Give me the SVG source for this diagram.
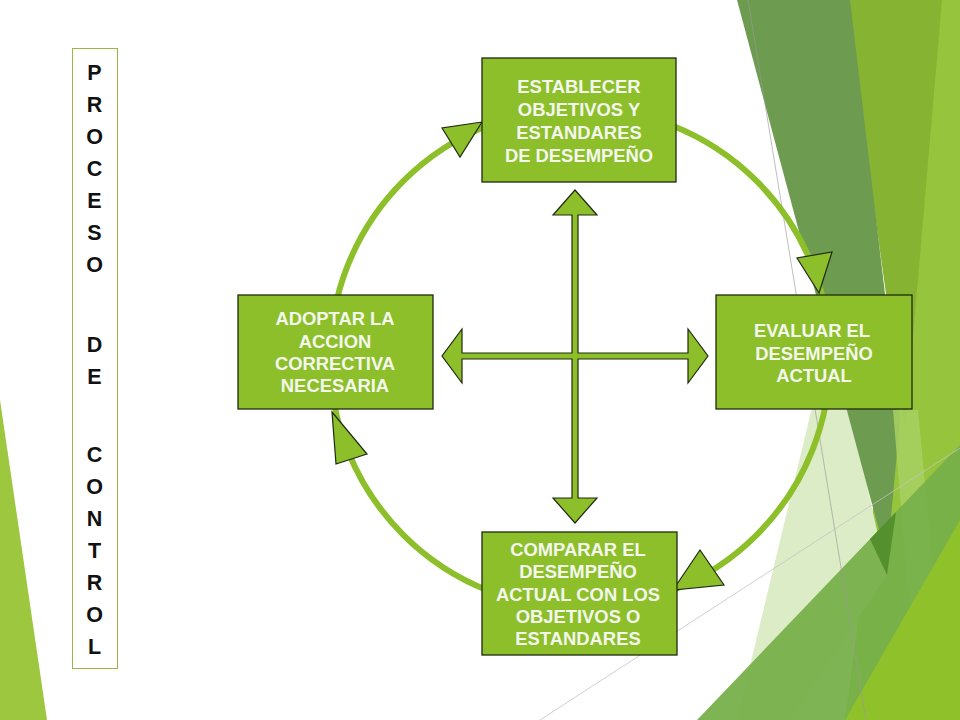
<svg xmlns="http://www.w3.org/2000/svg" width="960" height="720" viewBox="0 0 960 720">
<style>
.box{fill:#8DBF2A;stroke:#1E2A10;stroke-width:1.3}
.bt{font-family:"Liberation Sans",Arial,sans-serif;font-weight:bold;font-size:18.4px;fill:#F4F7EE;text-anchor:middle}
.tt{font-family:"Liberation Sans",Arial,sans-serif;font-weight:bold;font-size:21.5px;fill:#111111;text-anchor:middle}
.head{fill:#8DBF2A;stroke:#1E2A10;stroke-width:1.2;stroke-linejoin:miter}
.ring{fill:none;stroke:#8DBF2A;stroke-width:6}
</style>
<rect width="960" height="720" fill="#FFFFFF"/>
<g id="background">
  <polygon points="0,400 47,720 0,720" fill="#9DC73F"/>
  <polygon points="940,0 960,0 960,720 845,720" fill="#96C43C"/>
  <polygon points="845,0 942,0 905,430" fill="#86B332"/>
  <polygon points="815,395 850,410 887,575 790,720 737,720" fill="#DCECC7"/>
  <polygon points="737,0 850,0 900,420 887,560" fill="#6D9B50"/>
  <polygon points="893,410 918,410 940,640 912,640" fill="#A8D162" opacity="0.85"/>
  <polygon points="697,720 960,445 960,720" fill="#77B04A" opacity="0.95"/>
  <polygon points="870,539 896,512 887,575" fill="#55902E"/>
  <polygon points="845,720 960,520 960,720" fill="#8FC12A"/>
  <line x1="748" y1="0" x2="866" y2="720" stroke="#9A9A9A" stroke-width="0.8" opacity="0.8"/>
  <line x1="540" y1="720" x2="960" y2="448" stroke="#C4C4C4" stroke-width="0.8"/>
</g>
<g id="connectors">
  <circle class="ring" cx="580" cy="358" r="250"/>
  <polygon class="head" points="482,122 442,128 460,157"/>
  <polygon class="head" points="819,293 797,258 832,252"/>
  <polygon class="head" points="673,590 700,550 724,585"/>
  <polygon class="head" points="332,412 367,454 336,464"/>
  <path class="head" d="M575,190 L597,215 L578,215 L578,353 L688,353 L688,329 L708,356 L688,383 L688,359 L578,359 L578,498 L597,498 L575,523 L553,498 L572,498 L572,359 L462,359 L462,383 L442,356 L462,329 L462,353 L572,353 L572,215 L553,215 Z"/>
</g>
<g id="node-establecer">
  <rect class="box" x="482" y="58" width="194" height="124"/>
  <text class="bt" x="579" y="93">ESTABLECER</text>
  <text class="bt" x="579" y="116">OBJETIVOS Y</text>
  <text class="bt" x="579" y="139">ESTANDARES</text>
  <text class="bt" x="579" y="162">DE DESEMPEÑO</text>
</g>
<g id="node-evaluar">
  <rect class="box" x="716" y="295" width="196" height="114"/>
  <text class="bt" x="812" y="337">EVALUAR EL</text>
  <text class="bt" x="814" y="360">DESEMPEÑO</text>
  <text class="bt" x="814" y="382">ACTUAL</text>
</g>
<g id="node-comparar">
  <rect class="box" x="482" y="532" width="195" height="123"/>
  <text class="bt" x="578" y="556">COMPARAR EL</text>
  <text class="bt" x="578" y="578">DESEMPEÑO</text>
  <text class="bt" x="578" y="601">ACTUAL CON LOS</text>
  <text class="bt" x="578" y="623">OBJETIVOS O</text>
  <text class="bt" x="578" y="645">ESTANDARES</text>
</g>
<g id="node-adoptar">
  <rect class="box" x="238" y="295" width="195" height="114"/>
  <text class="bt" x="335" y="325">ADOPTAR LA</text>
  <text class="bt" x="335" y="348">ACCION</text>
  <text class="bt" x="335" y="370">CORRECTIVA</text>
  <text class="bt" x="335" y="392">NECESARIA</text>
</g>
<g id="node-title">
  <rect x="72.5" y="48.5" width="45" height="620" fill="#FFFFFF" stroke="#9AB445" stroke-width="1"/>
  <text class="tt" x="94.5" y="80">P</text>
  <text class="tt" x="94.5" y="112">R</text>
  <text class="tt" x="94.5" y="144">O</text>
  <text class="tt" x="94.5" y="176">C</text>
  <text class="tt" x="94.5" y="208">E</text>
  <text class="tt" x="94.5" y="240">S</text>
  <text class="tt" x="94.5" y="272">O</text>
  <text class="tt" x="94.5" y="352">D</text>
  <text class="tt" x="94.5" y="384">E</text>
  <text class="tt" x="94.5" y="462">C</text>
  <text class="tt" x="94.5" y="494">O</text>
  <text class="tt" x="94.5" y="526">N</text>
  <text class="tt" x="94.5" y="558">T</text>
  <text class="tt" x="94.5" y="590">R</text>
  <text class="tt" x="94.5" y="622">O</text>
  <text class="tt" x="94.5" y="654">L</text>
</g>
</svg>
